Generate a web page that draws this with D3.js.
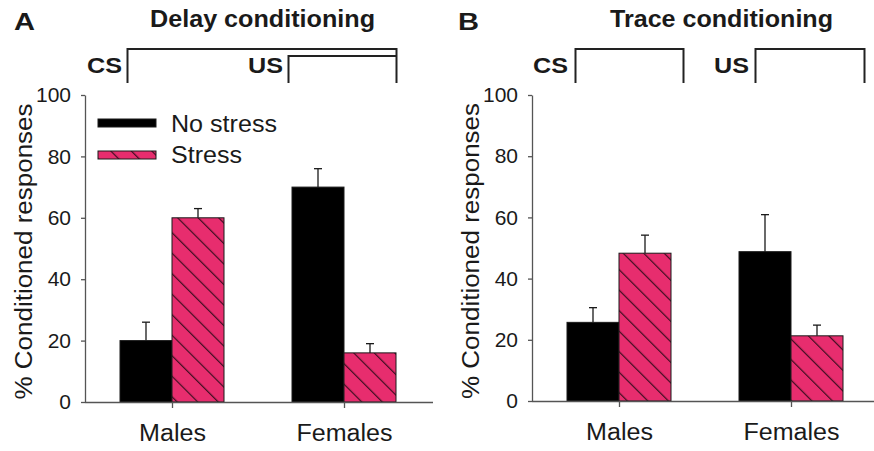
<!DOCTYPE html>
<html>
<head>
<meta charset="utf-8">
<script src="https://cdn.jsdelivr.net/npm/d3@7"></script>
<style>
    body { margin: 0; background: #fff; }
    svg { display: block; font-family: "Liberation Sans", Arial, sans-serif; }
</style>
</head>
<body>
<div id="chart"></div>
<script>
// categories and series
const groups = ["Males", "Females"];
const conditions = ["No stress", "Stress"];
const yTicks = [0, 20, 40, 60, 80, 100];

// panel A - delay conditioning (mean, error)
const delayNoStress = [20, 70];
const delayNoStressErr = [6, 6];
const delayStress = [60, 16];
const delayStressErr = [3, 3];

// panel B - trace conditioning (mean, error)
const traceNoStress = [25.7, 48.8];
const traceNoStressErr = [4.8, 12.1];
const traceStress = [48.3, 21.3];
const traceStressErr = [5.9, 3.5];

const width = 874, height = 451;
const pink = "#e72d6e";
const ink = "#1a1a1a";

const svg = d3.select("#chart")
    .append("svg")
    .attr("width", width)
    .attr("height", height);

svg.append("rect").attr("width", width).attr("height", height).attr("fill", "#fff");

// hatch pattern for the stress bars
svg.append("defs")
    .append("pattern")
    .attr("id", "hatch")
    .attr("patternUnits", "userSpaceOnUse")
    .attr("width", 14.5)
    .attr("height", 14.5)
    .attr("patternTransform", "rotate(-45)")
    .call(p => {
        p.append("rect").attr("width", 14.5).attr("height", 14.5).attr("fill", pink);
        p.append("line")
            .attr("x1", 0).attr("y1", 0).attr("x2", 0).attr("y2", 14.5)
            .attr("stroke", "#3b0d1f").attr("stroke-width", 2.4);
    });

// text with a fixed drawn width (the scanned figure uses a wide face)
function label(g, str, x, y, size, w, opts = {}) {
    const t = g.append("text")
        .attr("x", x)
        .attr("y", y)
        .attr("font-size", size)
        .attr("font-weight", opts.bold ? "bold" : "normal")
        .attr("fill", ink)
        .text(str);
    if (w) t.attr("textLength", w).attr("lengthAdjust", "spacingAndGlyphs");
    if (opts.transform) t.attr("transform", opts.transform);
    return t;
}

function drawPanel(cfg) {
    const g = svg.append("g");

    const x = d3.scalePoint().domain(groups).range([cfg.left, cfg.left + 344]).padding(0.5);
    const xc = d3.scaleBand().domain(conditions).range([-52, 52]);
    const y = d3.scaleLinear().domain([0, 100]).range([cfg.bottom, 95]);

    // rows: one per bar
    const rows = [];
    groups.forEach((grp, i) => {
        rows.push({ grp, cond: "No stress", v: cfg.noStress[i], e: cfg.noStressErr[i] });
        rows.push({ grp, cond: "Stress", v: cfg.stress[i], e: cfg.stressErr[i] });
    });

    // error bars (drawn first so the bar covers the base)
    const eb = g.append("g").attr("stroke", ink).attr("stroke-width", 1.3);
    eb.selectAll("line.v")
        .data(rows)
        .enter()
        .append("line")
        .attr("class", "v")
        .attr("x1", d => x(d.grp) + xc(d.cond) + xc.bandwidth() / 2)
        .attr("x2", d => x(d.grp) + xc(d.cond) + xc.bandwidth() / 2)
        .attr("y1", d => y(d.v))
        .attr("y2", d => y(d.v + d.e));
    eb.selectAll("line.c")
        .data(rows)
        .enter()
        .append("line")
        .attr("class", "c")
        .attr("x1", d => x(d.grp) + xc(d.cond) + xc.bandwidth() / 2 - 4)
        .attr("x2", d => x(d.grp) + xc(d.cond) + xc.bandwidth() / 2 + 4)
        .attr("y1", d => y(d.v + d.e))
        .attr("y2", d => y(d.v + d.e));

    // bars
    g.append("g")
        .selectAll("rect")
        .data(rows)
        .enter()
        .append("rect")
        .attr("x", d => x(d.grp) + xc(d.cond))
        .attr("width", xc.bandwidth())
        .attr("y", d => y(d.v))
        .attr("height", d => y(0) - y(d.v))
        .attr("fill", d => d.cond === "Stress" ? "url(#hatch)" : "#000")
        .attr("stroke", ink)
        .attr("stroke-width", 1);

    // y axis
    const ya = g.append("g")
        .attr("transform", `translate(${cfg.axisX},0)`)
        .call(d3.axisLeft(y).tickValues(yTicks).tickSize(4).tickSizeOuter(0).tickPadding(10));
    ya.selectAll("text").attr("font-size", 21).attr("fill", ink).attr("font-family", null);

    // x axis
    const xa = g.append("g")
        .attr("transform", `translate(0,${cfg.bottom})`)
        .call(d3.axisBottom(x).tickSize(6).tickSizeOuter(0).tickPadding(17));
    xa.selectAll("text")
        .attr("font-size", 23).attr("fill", ink).attr("font-family", null)
        .attr("textLength", d => d === "Males" ? 67 : 96)
        .attr("lengthAdjust", "spacingAndGlyphs");
    xa.select(".domain").attr("d", `M${cfg.axisX},0.5H${cfg.axisEnd}`);
    [ya, xa].forEach(a => a.selectAll(".domain, line").attr("stroke", "#555").attr("stroke-width", 1.3));

    // y label
    label(g, "% Conditioned responses", 0, 0, 23, 296, {
        transform: `translate(${cfg.axisX - 53},${(cfg.bottom + 95) / 2 + 3}) rotate(-90)`
    }).attr("text-anchor", "middle");

    // panel letter and title
    label(g, cfg.letter, cfg.letterX, 30, 24, 21, { bold: true });
    label(g, cfg.title, cfg.titleX, 27, 23, cfg.titleW, { bold: true });

    // CS / US timing brackets
    cfg.brackets.forEach(b => {
        label(g, b.name, b.textX, 73, 22, 35, { bold: true });
        g.append("path")
            .attr("d", b.path)
            .attr("fill", "none")
            .attr("stroke", "#222")
            .attr("stroke-width", 2);
    });

    return g;
}

const gA = drawPanel({
    letter: "A", letterX: 14, title: "Delay conditioning", titleX: 150, titleW: 225,
    left: 86, axisX: 85, axisEnd: 433, bottom: 402,
    noStress: delayNoStress, noStressErr: delayNoStressErr,
    stress: delayStress, stressErr: delayStressErr,
    brackets: [
        { name: "CS", textX: 87, path: "M127.5,83V49H396.5V83" },
        { name: "US", textX: 248, path: "M288.5,83V56H396.5" }
    ]
});

drawPanel({
    letter: "B", letterX: 458, title: "Trace conditioning", titleX: 610, titleW: 223,
    left: 533, axisX: 532, axisEnd: 874, bottom: 401,
    noStress: traceNoStress, noStressErr: traceNoStressErr,
    stress: traceStress, stressErr: traceStressErr,
    brackets: [
        { name: "CS", textX: 533, path: "M575.5,83V49H683.5V83" },
        { name: "US", textX: 714, path: "M755.5,83V49H864.5V83" }
    ]
});

// legend (panel A only)
const legend = gA.append("g");
conditions.forEach((c, i) => {
    legend.append("rect")
        .attr("x", 98)
        .attr("y", 119 + i * 32)
        .attr("width", 58)
        .attr("height", 8)
        .attr("fill", i === 0 ? "#000" : "url(#hatch)")
        .attr("stroke", ink)
        .attr("stroke-width", 1);
    label(legend, c, 171, 132 + i * 31, 23, i === 0 ? 106 : 71);
});
</script>
</body>
</html>
